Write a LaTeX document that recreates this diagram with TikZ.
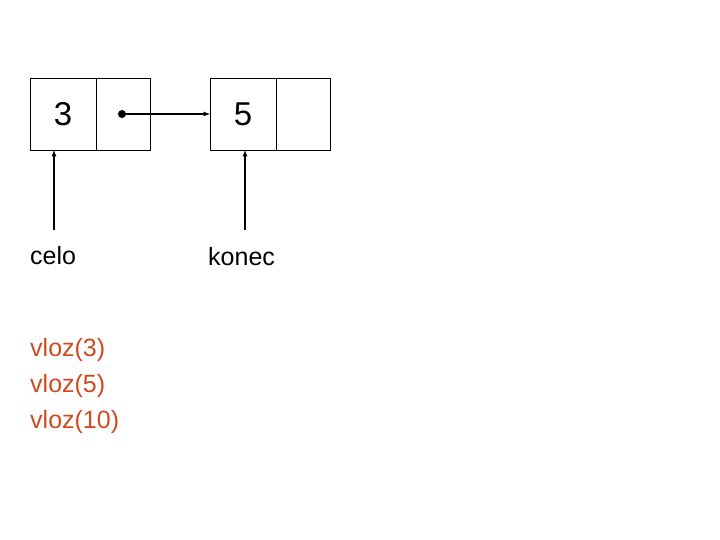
\documentclass[tikz,border=0pt]{standalone}
\usepackage{fontspec}
\setmainfont{Liberation Sans}
\definecolor{code}{HTML}{D04A1E}
\begin{document}
\begin{tikzpicture}[x=1pt,y=-1pt,
  cell/.style={draw,line width=0.8pt,minimum width=66pt,minimum height=72pt,inner sep=0pt},
  cellb/.style={draw,line width=0.8pt,minimum width=54pt,minimum height=72pt,inner sep=0pt},
  lbl/.style={font=\fontsize{25}{30}\selectfont,inner sep=0pt},
  num/.style={font=\fontsize{33}{36}\selectfont},
  ptr/.style={line width=1.2pt,-latex}]
\useasboundingbox (0,0) rectangle (720,540);
\node[cell] (a1) at (63,114) {}; \node[num] (n3) at (63,114) {3};
\node[cellb] (a2) at (123,114) {};
\node[cell] (b1) at (243,114) {}; \node[num] (n5) at (243,114) {5};
\node[cellb] (b2) at (303,114) {};
\fill (122,114) circle (4pt) coordinate (d);
\coordinate (bt) at (210,114);
\draw[ptr] (d) -- (bt);
\coordinate (c0) at (54,230); \coordinate (c1) at (54,150);
\coordinate (k0) at (245,230); \coordinate (k1) at (245,150);
\draw[ptr] (c0) -- (c1);
\draw[ptr] (k0) -- (k1);
\node[lbl,anchor=west] (celo) at (30,256) {celo};
\node[lbl,anchor=west] (konec) at (208,257) {konec};
\node[lbl,anchor=west,text=code] (v1) at (30,350) {vloz(3)};
\node[lbl,anchor=west,text=code] (v2) at (30,386) {vloz(5)};
\node[lbl,anchor=west,text=code] (v3) at (30,422) {vloz(10)};
\end{tikzpicture}
\end{document}
